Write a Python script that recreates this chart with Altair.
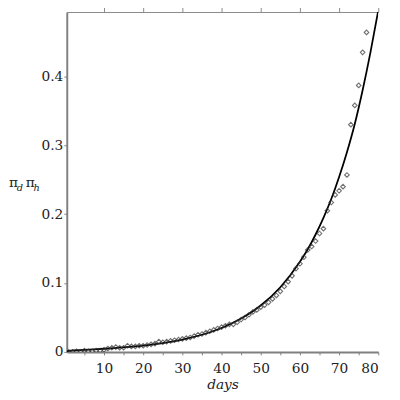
import altair as alt
import pandas as pd

# observed data (days, value)
days = list(range(1, 78))
obs = [0.000, 0.000, 0.001, 0.000, 0.002, 0.001, 0.001, 0.002, 0.002, 0.003,
       0.005, 0.006, 0.007, 0.006, 0.006, 0.009, 0.008, 0.008, 0.009, 0.009,
       0.010, 0.011, 0.012, 0.015, 0.014, 0.015, 0.016, 0.017, 0.018, 0.019,
       0.020, 0.021, 0.023, 0.025, 0.026, 0.028, 0.030, 0.032, 0.034, 0.036,
       0.038, 0.040, 0.040, 0.043, 0.047, 0.050, 0.054, 0.058, 0.061, 0.065,
       0.068, 0.072, 0.077, 0.082, 0.088, 0.095, 0.102, 0.1105, 0.121, 0.128,
       0.1375, 0.148, 0.153, 0.161, 0.172, 0.179, 0.205, 0.217, 0.228, 0.234,
       0.240, 0.257, 0.330, 0.358, 0.387, 0.435, 0.464]

# fitted curve
curve_x = [0.5, 1, 5, 10, 15, 20, 25, 30, 35, 40, 45, 50, 55, 60, 62, 64, 66,
           68, 70, 72, 74, 76, 78, 80]
curve_y = [0.0010, 0.0015, 0.0030, 0.0046, 0.0066, 0.0092, 0.0129, 0.0179,
           0.0249, 0.0347, 0.0484, 0.0674, 0.0939, 0.1309, 0.149, 0.1705,
           0.1947, 0.222, 0.254, 0.290, 0.331, 0.380, 0.435, 0.496]

x_ticks = [5, 10, 15, 20, 25, 30, 35, 40, 45, 50, 55, 60, 65, 70, 75, 80]
y_ticks = [0, 0.05, 0.1, 0.15, 0.2, 0.25, 0.3, 0.35, 0.4, 0.45]

SERIF = "DejaVu Serif"

pts = pd.DataFrame({"days": days, "v": obs})
cur = pd.DataFrame({"days": curve_x, "v": curve_y})

xs = alt.Scale(domain=[0.5, 80], nice=False, zero=False)
ys = alt.Scale(domain=[0, 0.4936], nice=False)

xaxis = alt.Axis(values=x_ticks, title="days", titleFont=SERIF,
                 titleFontStyle="italic", titleFontWeight="normal", titleFontSize=14,
                 titleColor="#222", titlePadding=2,
                 labelExpr="datum.value % 10 == 0 ? datum.value : ''",
                 labelFont=SERIF, labelFontSize=14, labelColor="#222",
                 domainColor="#808080", domainWidth=2, tickColor="#808080",
                 tickSize=3, grid=False, labelPadding=7)
yaxis = alt.Axis(values=y_ticks, title=None,
                 labelExpr="datum.value == 0 ? '0' : (round(datum.value*100) % 10 == 0 ? format(datum.value, '.1f') : '')",
                 labelFont=SERIF, labelFontSize=14, labelColor="#222",
                 domainColor="#808080", domainWidth=2, tickColor="#808080",
                 tickSize=3, grid=False, labelPadding=1)

line = alt.Chart(cur).mark_line(color="black", strokeWidth=1.8, clip=True,
                                interpolate="monotone").encode(
    x=alt.X("days:Q", scale=xs, axis=xaxis),
    y=alt.Y("v:Q", scale=ys, axis=yaxis),
)

points = alt.Chart(pts).mark_point(shape="diamond", filled=False, color="#333",
                                   strokeWidth=1.1, size=22, clip=True).encode(
    x=alt.X("days:Q", scale=xs),
    y=alt.Y("v:Q", scale=ys),
)

lab_pi = alt.Chart(pd.DataFrame({"t": ["π", "π"], "k": [0, 1]})).mark_text(
    font=SERIF, fontSize=14, align="left", baseline="alphabetic",
    color="#222").encode(
    text="t:N",
    x=alt.X("k:Q", scale=alt.Scale(domain=[0, 1], range=[-59, -42]), axis=None),
    y=alt.value(179),
)
lab_sub = alt.Chart(pd.DataFrame({"t": ["d", "h"], "k": [0, 1]})).mark_text(
    font=SERIF, fontSize=10, fontStyle="italic", align="left",
    baseline="alphabetic", color="#222").encode(
    text="t:N",
    x=alt.X("k:Q", scale=alt.Scale(domain=[0, 1], range=[-51, -34]), axis=None),
    y=alt.value(183),
)

chart = alt.layer(line, points, lab_pi, lab_sub).resolve_scale(x="independent").properties(
    width=318, height=347,
    autosize=alt.AutoSizeParams(type="none"),
    padding={"left": 60, "top": 0, "right": 14, "bottom": 45},
).configure_view(stroke=None)

chart.save("out.html", embed_options={"renderer": "svg", "actions": False})
